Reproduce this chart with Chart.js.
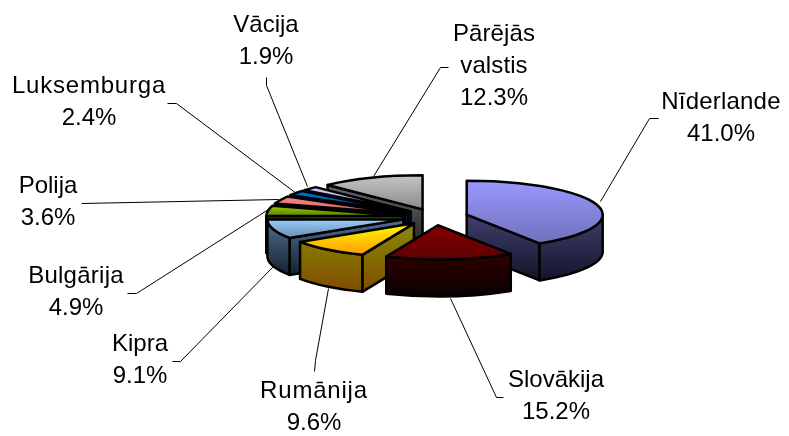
<!DOCTYPE html>
<html>
<head>
<meta charset="utf-8">
<style>html,body{margin:0;padding:0;background:#fff}canvas{display:block}</style>
<script src="https://cdn.jsdelivr.net/npm/chart.js@4"></script>
</head>
<body>
<canvas id="c" width="789" height="436"></canvas>
<script>
const categories = ['Nīderlande','Slovākija','Rumānija','Kipra','Bulgārija','Polija','Luksemburga','Vācija','Pārējās valstis'];
const shares = [41.0,15.2,9.6,9.1,4.9,3.6,2.4,1.9,12.3];

const topFill = [['#9999ff','#7070bb'],['#880000','#5c0000'],['#ffff00','#ff9900'],['#99ccff','#6a8db0'],['#99cc00','#5f7f00'],['#ff8888','#c06060'],['#0070dd','#004c99'],['#ccccff','#9999c0'],['#c4c4c4','#8a8a8a']];
const wallFill = [['#55558f','#14142a'],['#4a0000','#0a0000'],['#8a8a00','#804c00'],['#4f6f8f','#16222e'],['#445a00','#223000'],['#704040','#402020'],['#004488','#002244'],['#55557a','#30304a'],['#6c6c6c','#262626']];

// label block: centre x, first baseline, line break handled by labelLines
const labelLines = [['Nīderlande'],['Slovākija'],['Rumānija'],['Kipra'],['Bulgārija'],['Polija'],['Luksemburga'],['Vācija'],['Pārējās','valstis']];
const labelAnchor = [[721,109],[556,387],[314,398],[140,351],[76,283],[48,193],[89,93],[266,32],[494,41]];
const labelTrack = [0.2,0,0.8,0,0.25,0,0.8,0,0.1];
const leaders = [
 [[658,118],[649,118],[600,201]],
 [[503,397],[496,397],[450,298]],
 [[314,371],[315,360],[328,288]],
 [[172,361],[180,361],[273,266]],
 [[127,293],[136,293],[268,209]],
 [[81,203],[278,199]],
 [[167,103],[176,103],[296,193]],
 [[266,77],[266,85],[307,186]],
 [[448,67],[440,67],[373,176]]
];

const pie3d = {
  id:'pie3d',
  beforeDatasetDraw(chart,args,opts){
    const ctx = chart.ctx, arcs = chart.getDatasetMeta(0).data;
    const sq = opts.squash, d = opts.depth, ex = opts.explode;
    const items = arcs.map((a,i)=>{
      const p = a.getProps(['x','y','startAngle','endAngle','outerRadius'],true);
      const mid = (p.startAngle+p.endAngle)/2;
      return {i,p,mid,cx:p.x+Math.cos(mid)*ex,cy:p.y+Math.sin(mid)*ex*sq};
    }).sort((u,v)=>Math.sin(u.mid)-Math.sin(v.mid));
    const grad=(c,y0,y1)=>{const g=ctx.createLinearGradient(0,y0,0,y1);g.addColorStop(0,c[0]);g.addColorStop(1,c[1]);return g;};
    ctx.save();
    ctx.lineWidth = 2.5; ctx.strokeStyle = '#000'; ctx.lineJoin='round';
    for(const it of items){
      const {i,p,cx,cy} = it, r=p.outerRadius, ry=r*sq, a0=p.startAngle, a1=p.endAngle;
      const px=a=>cx+Math.cos(a)*r, py=a=>cy+Math.sin(a)*ry;
      let minY=Math.min(cy,py(a0),py(a1)), maxY=Math.max(cy,py(a0),py(a1));
      if(a0<-Math.PI/2+1e-6||a1>3*Math.PI/2-1e-6) minY=Math.min(minY,cy-ry);
      if(a0<Math.PI/2&&a1>Math.PI/2) maxY=Math.max(maxY,cy+ry);
      const wallG=grad(wallFill[i],minY,maxY+d);
      const quad=a=>{ctx.beginPath();ctx.moveTo(cx,cy);ctx.lineTo(px(a),py(a));ctx.lineTo(px(a),py(a)+d);ctx.lineTo(cx,cy+d);ctx.closePath();ctx.fillStyle=wallG;ctx.fill();ctx.stroke();};
      if(Math.cos(a0)<0) quad(a0);
      if(Math.cos(a1)>0) quad(a1);
      const s=Math.max(a0,0), e=Math.min(a1,Math.PI);
      if(e>s){
        ctx.beginPath();ctx.ellipse(cx,cy,r,ry,0,s,e);ctx.lineTo(px(e),py(e)+d);ctx.ellipse(cx,cy+d,r,ry,0,e,s,true);ctx.closePath();
        ctx.fillStyle=wallG;ctx.fill();ctx.stroke();
      }
      ctx.beginPath();ctx.moveTo(cx,cy);ctx.ellipse(cx,cy,r,ry,0,a0,a1);ctx.closePath();
      ctx.fillStyle=grad(topFill[i],minY,maxY);ctx.fill();ctx.stroke();
    }
    ctx.restore();
    return false;
  },
  afterDatasetsDraw(chart){
    const ctx=chart.ctx;
    ctx.save();
    ctx.strokeStyle='#000';ctx.lineWidth=1;
    leaders.forEach(l=>{ctx.beginPath();l.forEach((q,k)=>k?ctx.lineTo(q[0]+.5,q[1]+.5):ctx.moveTo(q[0]+.5,q[1]+.5));ctx.stroke();});
    ctx.fillStyle='#000';ctx.font='24px "Liberation Sans"';ctx.textAlign='center';ctx.textBaseline='alphabetic';
    labelLines.forEach((ls,i)=>{
      const [x,y]=labelAnchor[i];
      ls.forEach((t,k)=>{ctx.letterSpacing=labelTrack[i]+'px';ctx.fillText(t,x,y+k*32);});
      ctx.letterSpacing='0px';
      ctx.fillText(shares[i].toFixed(1)+'%',x,y+ls.length*32);
    });
    ctx.restore();
  }
};

new Chart(document.getElementById('c'),{
  type:'pie',
  data:{labels:categories,datasets:[{data:shares,backgroundColor:topFill.map(c=>c[0]),borderColor:'#000',borderWidth:2}]},
  options:{
    responsive:false,animation:false,
    layout:{padding:{left:298,right:217,top:80,bottom:82}},
    plugins:{legend:{display:false},tooltip:{enabled:false},pie3d:{squash:0.25,depth:37,explode:33}}
  },
  plugins:[pie3d]
});
</script>
</body>
</html>
